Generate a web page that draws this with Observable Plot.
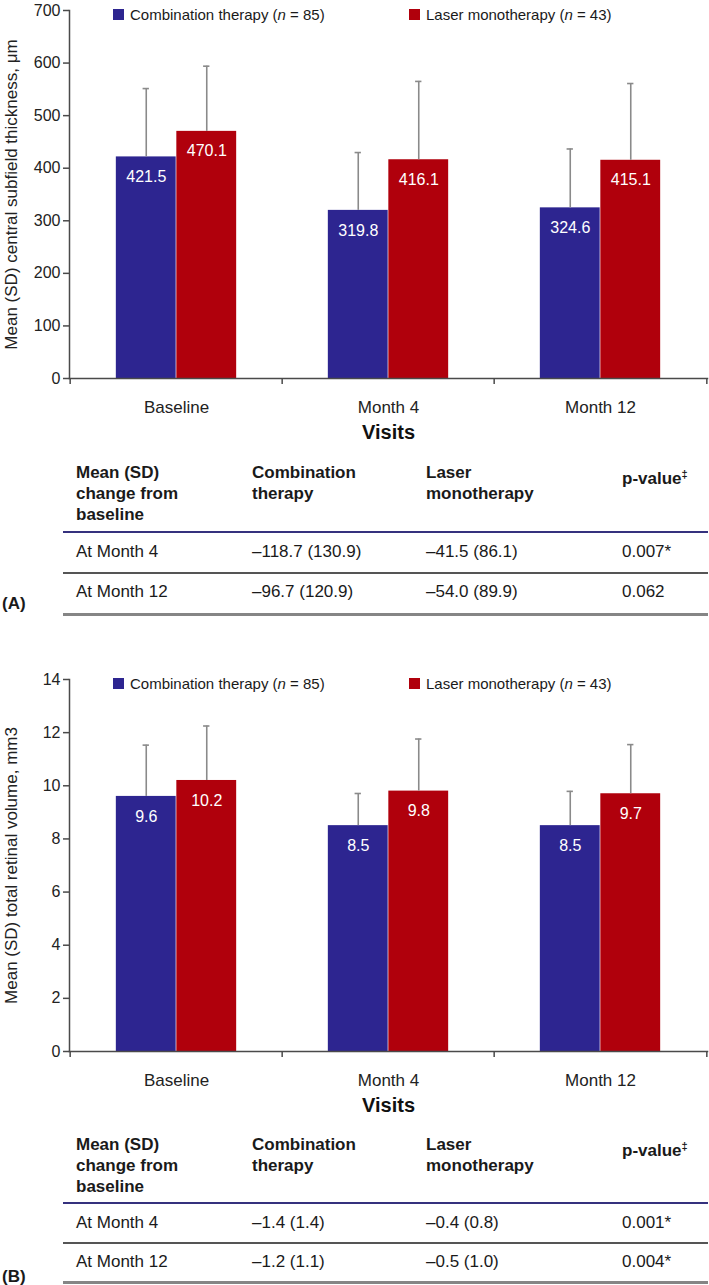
<!DOCTYPE html>
<html><head><meta charset="utf-8">
<script src="https://cdn.jsdelivr.net/npm/d3@7"></script>
<script src="https://cdn.jsdelivr.net/npm/@observablehq/plot@0.6"></script>
<style>
body{margin:0;background:#fff;}
#root{position:relative;width:709px;height:1285px;overflow:hidden;font-family:"Liberation Sans",Arial,sans-serif;color:#1a1a1a;}
.abs{position:absolute;white-space:nowrap;line-height:20px;}
.hd{font-weight:bold;}
</style></head><body><div id="root"></div>
<script>
// ---------- data ----------
const visits = ["Baseline", "Month 4", "Month 12"];
const seriesNames = ["Combination therapy", "Laser monotherapy"];
const seriesN = [85, 43];
const seriesColors = ["#2D2590", "#B0000C"];

// Panel A: central subfield thickness (µm)
const cstCombo = [421.5, 319.8, 324.6];
const cstComboSD = [130, 110, 112];
const cstLaser = [470.1, 416.1, 415.1];
const cstLaserSD = [124, 149, 146];
const cstTicks = [0, 100, 200, 300, 400, 500, 600, 700];

// Panel B: total retinal volume (mm3)
const trvCombo = [9.6, 8.5, 8.5];
const trvComboSD = [1.93, 1.21, 1.29];
const trvLaser = [10.2, 9.8, 9.7];
const trvLaserSD = [2.05, 1.96, 1.85];
const trvTicks = [0, 2, 4, 6, 8, 10, 12, 14];

// Tables
const tableHeader = [["Mean (SD)", "change from", "baseline"], ["Combination", "therapy"], ["Laser", "monotherapy"], ["p-value"]];
const tableRowsA = [
  ["At Month 4", "\u2013118.7 (130.9)", "\u201341.5 (86.1)", "0.007*"],
  ["At Month 12", "\u201396.7 (120.9)", "\u201354.0 (89.9)", "0.062"]
];
const tableRowsB = [
  ["At Month 4", "\u20131.4 (1.4)", "\u20130.4 (0.8)", "0.001*"],
  ["At Month 12", "\u20131.2 (1.1)", "\u20130.5 (1.0)", "0.004*"]
];

// ---------- layout ----------
const root = document.getElementById("root");
const W = 709, ML = 69, MR = 2, MT = 10, H = 448;
const bw = (W - ML - MR) / 3;
const barW = 60.5;

function chart({top, frameH, combo, comboSD, laser, laserSD, ticks, yLabel, fmt}) {
  const rows = visits.flatMap((v, i) => [
    {visit: v, s: 0, mean: combo[i], sd: comboSD[i]},
    {visit: v, s: 1, mean: laser[i], sd: laserSD[i]}
  ]);
  const marks = [];
  [0, 1].forEach(s => {
    const d = rows.filter(r => r.s === s);
    const off = s === 0 ? -barW / 2 : barW / 2;
    const inL = bw / 2 + off - barW / 2;
    const inR = bw - inL - barW;
    marks.push(Plot.barY(d, {x: "visit", y: "mean", fill: seriesColors[s], insetLeft: inL, insetRight: inR}));
    marks.push(Plot.ruleX(d, {x: "visit", y1: "mean", y2: r => r.mean + r.sd, dx: off, stroke: "#8a8a8a", strokeWidth: 1.6}));
    marks.push(Plot.tickY(d, {x: "visit", y: r => r.mean + r.sd, stroke: "#8a8a8a", strokeWidth: 1.6,
      insetLeft: bw / 2 + off - 3.5, insetRight: bw / 2 - off - 3.5}));
    marks.push(Plot.text(d, {x: "visit", y: "mean", text: r => fmt(r.mean), dx: off, dy: 20, fill: "white", fontSize: 16}));
  });
  const svg = Plot.plot({
    width: W, height: H,
    marginLeft: ML, marginRight: MR, marginTop: MT, marginBottom: H - MT - frameH,
    style: {fontFamily: "'Liberation Sans', Arial, sans-serif", background: "transparent", overflow: "visible"},
    x: {domain: visits, padding: 0},
    y: {domain: [ticks[0], ticks[ticks.length - 1]]},
    marks: [
      ...marks,
      Plot.frame({anchor: "left", stroke: "#4a4a4a", strokeWidth: 1.5}),
      Plot.frame({anchor: "bottom", stroke: "#4a4a4a", strokeWidth: 1.5}),
      Plot.ruleX(visits, {x: d => d, dx: -bw / 2, insetTop: frameH, insetBottom: -6, stroke: "#4a4a4a", strokeWidth: 1.5}),
      Plot.ruleX(visits.slice(-1), {x: d => d, dx: bw / 2, insetTop: frameH, insetBottom: -6, stroke: "#4a4a4a", strokeWidth: 1.5}),
      Plot.axisY(ticks, {tickSize: 6, tickPadding: 3, fontSize: 16, label: null, stroke: "#4a4a4a", fill: "#222", strokeWidth: 1.5}),
      Plot.axisX({tickSize: 0, tickPadding: 22, fontSize: 17, label: null, fill: "#222"}),
      Plot.text([yLabel], {text: d => d, frameAnchor: "left", textAnchor: "middle", lineAnchor: "middle", rotate: -90, dx: -58, fontSize: 17, fill: "#222"}),
      Plot.text(["Visits"], {text: d => d, frameAnchor: "bottom", textAnchor: "middle", lineAnchor: "middle", dy: 54, fontSize: 20, fontWeight: "bold", fill: "#111"})
    ]
  });
  svg.style.position = "absolute";
  svg.style.left = "0px";
  svg.style.top = top + "px";
  root.appendChild(svg);

  // legend (over the top of the plot area)
  const legX = [113, 409];
  seriesNames.forEach((name, i) => {
    const sq = document.createElement("div");
    sq.className = "abs";
    Object.assign(sq.style, {left: legX[i] + "px", top: (top + MT - 1) + "px", width: "11px", height: "11px", background: seriesColors[i]});
    root.appendChild(sq);
    const t = document.createElement("div");
    t.className = "abs";
    Object.assign(t.style, {left: (legX[i] + 17) + "px", top: (top + MT + 4.5 - 10) + "px", fontSize: "15px", color: "#1a1a1a"});
    t.innerHTML = `${name} (<i>n</i> = ${seriesN[i]})`;
    root.appendChild(t);
  });
}

function put(html, x, yc, cls, extra) {
  const d = document.createElement("div");
  d.className = "abs" + (cls ? " " + cls : "");
  d.style.left = x + "px";
  d.style.top = (yc - 10) + "px";
  d.style.fontSize = "17px";
  if (extra) Object.assign(d.style, extra);
  d.innerHTML = html;
  root.appendChild(d);
}
function line(y, h, color) {
  const d = document.createElement("div");
  d.className = "abs";
  Object.assign(d.style, {left: "63px", width: "645px", top: (y - h / 2) + "px", height: h + "px", background: color});
  root.appendChild(d);
}

function table({hdr, pY, blue, r1, gray, r2, bottom, tag, tagY, rows}) {
  const colX = [76, 252, 426, 622];
  tableHeader.forEach((lines, c) => {
    if (c === 3) {
      put(lines[0] + '<sup style="font-size:11px;vertical-align:6px;line-height:0">\u2021</sup>', colX[c], pY, "hd");
    } else {
      lines.forEach((t, k) => put(t, colX[c], hdr[k], "hd"));
    }
  });
  line(blue, 1.6, "#35317e");
  rows[0].forEach((t, c) => put(t, colX[c], r1));
  line(gray, 1.6, "#555");
  rows[1].forEach((t, c) => put(t, colX[c], r2));
  line(bottom, 3, "#858585");
  put(tag, 2, tagY, "hd");
}

// ---------- Panel A ----------
chart({top: 0, frameH: 368, combo: cstCombo, comboSD: cstComboSD, laser: cstLaser, laserSD: cstLaserSD,
  ticks: cstTicks, yLabel: "Mean (SD) central subfield thickness, \u03bcm", fmt: v => v.toFixed(1)});
table({hdr: [473, 494, 515], pY: 479, blue: 532, r1: 552, gray: 573, r2: 592, bottom: 614, tag: "(A)", tagY: 604, rows: tableRowsA});

// ---------- Panel B ----------
chart({top: 669, frameH: 372, combo: trvCombo, comboSD: trvComboSD, laser: trvLaser, laserSD: trvLaserSD,
  ticks: trvTicks, yLabel: "Mean (SD) total retinal volume, mm3", fmt: v => v.toFixed(1)});
table({hdr: [1145, 1166, 1187], pY: 1151, blue: 1203, r1: 1223, gray: 1243, r2: 1262, bottom: 1282, tag: "(B)", tagY: 1277, rows: tableRowsB});
</script>
</body></html>
